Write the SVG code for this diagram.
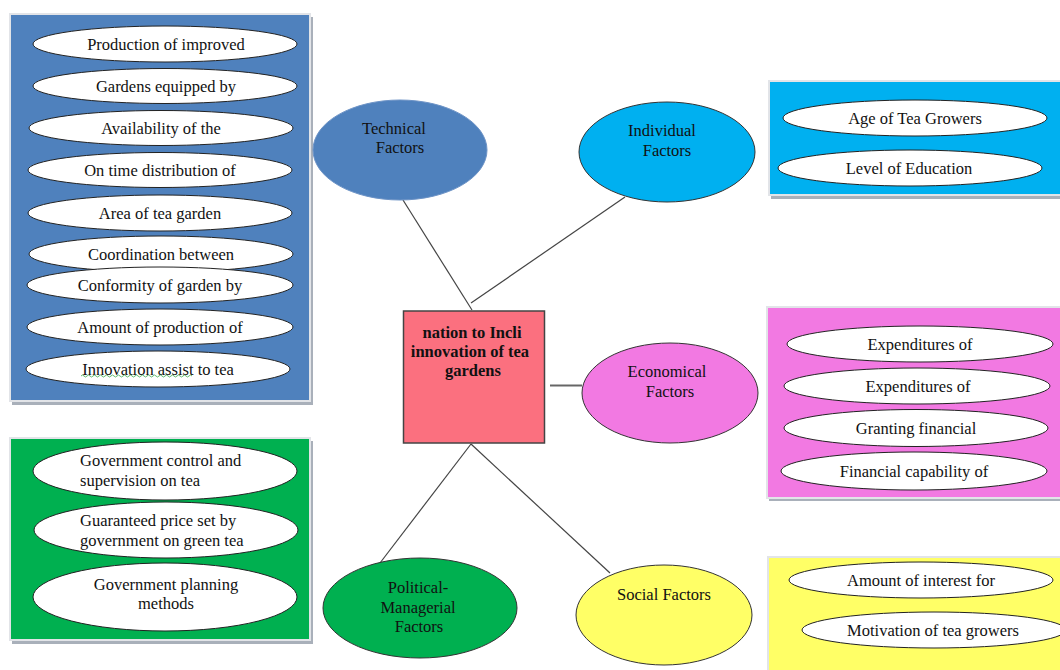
<svg xmlns="http://www.w3.org/2000/svg" width="1060" height="670" viewBox="0 0 1060 670">
<style>
text{font-family:"Liberation Serif","Times New Roman",serif;font-size:16.5px;fill:#111;text-anchor:middle}
.b{font-weight:bold}
.l{text-anchor:start}
.item{fill:#fff;stroke:#222;stroke-width:1}
.shadow{fill:#a9b0ba}
.panel{stroke:#e2e4e8;stroke-width:2}
.conn{stroke:#444;stroke-width:1.2;fill:none}
</style>
<rect width="1060" height="670" fill="#fff"/>

<g id="technical-panel">
<rect class="shadow" x="12" y="17" width="301" height="388"/>
<rect class="panel" x="10" y="14" width="300" height="387" fill="#4F81BD"/>
<ellipse class="item" cx="165" cy="44" rx="132" ry="18"/><text x="166" y="49.5">Production of improved</text>
<ellipse class="item" cx="165" cy="86" rx="132" ry="17.5"/><text x="166" y="91.5">Gardens equipped by</text>
<ellipse class="item" cx="161" cy="128" rx="132" ry="17.5"/><text x="161" y="133.5">Availability of the</text>
<ellipse class="item" cx="160" cy="170" rx="132" ry="17.5"/><text x="160" y="175.5">On time distribution of</text>
<ellipse class="item" cx="160" cy="213" rx="132" ry="18"/><text x="160" y="218.5">Area of tea garden</text>
<ellipse class="item" cx="161" cy="254" rx="132" ry="18"/><text x="161" y="259.5">Coordination between</text>
<ellipse class="item" cx="160" cy="285" rx="133" ry="18"/><text x="160" y="290.5">Conformity of garden by</text>
<ellipse class="item" cx="160" cy="327" rx="133" ry="18"/><text x="160" y="332.5">Amount of production of</text>
<ellipse class="item" cx="158" cy="369" rx="132" ry="18"/><text x="158" y="374.5">Innovation assist to tea</text>
<path d="M81 376 q1.5 -2 3 0 t3 0 t3 0 t3 0 t3 0 t3 0 t3 0 t3 0 t3 0 t3 0 t3 0 t3 0 t3 0 t3 0 t3 0 t3 0 t3 0 t3 0 t3 0 t3 0 t3 0 t3 0 t3 0 t3 0 t3 0 t3 0 t3 0 t3 0 t3 0 t3 0 t3 0 t3 0 t3 0 t3 0 t3 0 t3 0 t3 0" fill="none" stroke="#3aa84a" stroke-width="0.8"/>
</g>

<g id="political-panel">
<rect class="shadow" x="12" y="441" width="301" height="203"/>
<rect class="panel" x="10" y="438" width="300" height="202" fill="#00B050"/>
<ellipse class="item" cx="165" cy="471" rx="132" ry="29"/>
<text class="l" x="80" y="466">Government control and</text>
<text class="l" x="80" y="486">supervision on tea</text>
<ellipse class="item" cx="166" cy="530" rx="132" ry="28"/>
<text class="l" x="80" y="526">Guaranteed price set by</text>
<text class="l" x="80" y="546">government on green tea</text>
<ellipse class="item" cx="165" cy="597" rx="132" ry="34"/>
<text x="166" y="590">Government planning</text>
<text x="166" y="609">methods</text>
</g>

<g id="individual-panel">
<rect class="shadow" x="771" y="84" width="292" height="115"/>
<rect class="panel" x="769" y="81" width="295" height="114" fill="#00B0F0"/>
<ellipse class="item" cx="915" cy="118" rx="132" ry="18"/><text x="915" y="124">Age of Tea Growers</text>
<ellipse class="item" cx="910" cy="168" rx="132" ry="18"/><text x="909" y="174">Level of Education</text>
</g>

<g id="economical-panel">
<rect class="shadow" x="769" y="310" width="294" height="191"/>
<rect class="panel" x="767" y="307" width="297" height="191" fill="#F279E2"/>
<ellipse class="item" cx="920" cy="344" rx="133" ry="18"/><text x="920" y="350">Expenditures of</text>
<ellipse class="item" cx="917" cy="386" rx="133" ry="18"/><text x="918" y="392">Expenditures of</text>
<ellipse class="item" cx="916" cy="428" rx="132" ry="18.5"/><text x="916" y="434">Granting financial</text>
<ellipse class="item" cx="914" cy="471" rx="133" ry="19"/><text x="914" y="477">Financial capability of</text>
</g>

<g id="social-panel">
<rect class="panel" x="768" y="557" width="296" height="116" fill="#FFFF66"/>
<ellipse class="item" cx="921" cy="580" rx="132" ry="18"/><text x="921" y="586">Amount of interest for</text>
<ellipse class="item" cx="934" cy="630" rx="132" ry="18"/><text x="933" y="636">Motivation of tea growers</text>
</g>

<g id="connectors">
<line class="conn" x1="403" y1="200" x2="472" y2="310"/>
<line class="conn" x1="625" y1="197" x2="471" y2="303"/>
<line x1="550" y1="385.5" x2="582" y2="385.5" stroke="#666" stroke-width="2"/>
<line class="conn" x1="471" y1="444" x2="380" y2="563"/>
<line class="conn" x1="471" y1="444" x2="610" y2="573"/>
</g>

<g id="center">
<rect x="403.5" y="311" width="141" height="132" fill="#FB707F" stroke="#444" stroke-width="1.5"/>
<text class="b" x="472" y="338">nation to Incli</text>
<text class="b" x="470" y="357">innovation of tea</text>
<text class="b" x="473" y="376">gardens</text>
</g>

<g id="technical">
<ellipse cx="400" cy="150" rx="87" ry="50" fill="#4F81BD" stroke="#6d93c6" stroke-width="1"/>
<text x="394" y="134">Technical</text>
<text x="400" y="153">Factors</text>
</g>

<g id="individual">
<ellipse cx="667" cy="152" rx="88" ry="50" fill="#00B0F0" stroke="#333" stroke-width="1"/>
<text x="662" y="136">Individual</text>
<text x="667" y="156">Factors</text>
</g>

<g id="economical">
<ellipse cx="670" cy="393" rx="88" ry="50" fill="#F279E2" stroke="#333" stroke-width="1"/>
<text x="667" y="377">Economical</text>
<text x="670" y="397">Factors</text>
</g>

<g id="political">
<ellipse cx="420" cy="608" rx="97" ry="50" fill="#00B050" stroke="#333" stroke-width="1"/>
<text x="418" y="593">Political-</text>
<text x="418" y="613">Managerial</text>
<text x="419" y="632">Factors</text>
</g>

<g id="social">
<ellipse cx="664" cy="615" rx="88" ry="50" fill="#FFFF66" stroke="#333" stroke-width="1"/>
<text x="664" y="600">Social Factors</text>
</g>
</svg>
